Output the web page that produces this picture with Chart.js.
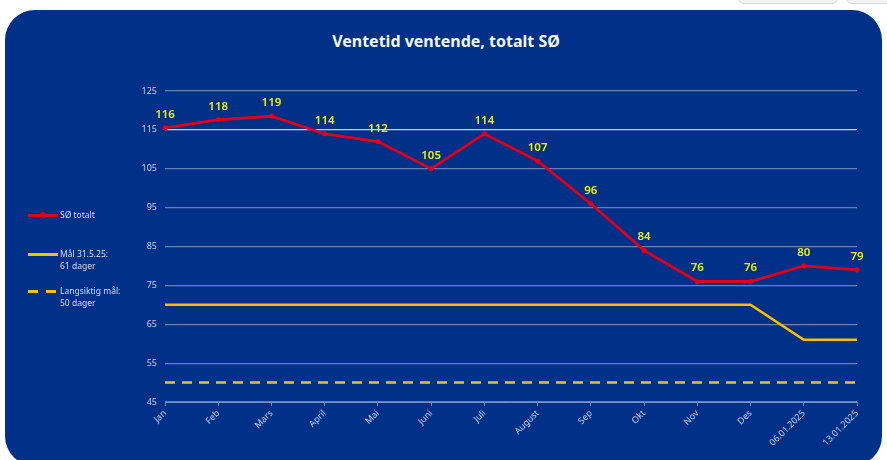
<!DOCTYPE html>
<html>
<head>
<meta charset="utf-8">
<script src="https://cdn.jsdelivr.net/npm/chart.js@4.4.1/dist/chart.umd.min.js"></script>
<style>
  html, body { margin: 0; padding: 0; background: #fff; width: 887px; height: 460px; overflow: hidden; }
  #panel {
    position: absolute; left: 5px; top: 10px; width: 877px; height: 456px;
    background: #003087; border-radius: 30px;
  }
  .btn {
    position: absolute; top: -12px; height: 14px; background: #f4f4f4;
    border: 1px solid #d8d8d8; border-radius: 6px;
  }
  #chart { position: absolute; left: 0; top: 0; }
  #title {
    position: absolute; left: 0; width: 892px; top: 30px; text-align: center;
    font-family: "Noto Sans", sans-serif; font-weight: bold; font-size: 16px; color: #f4f6fa;
  }
  .legend {
    position: absolute; left: 28px; font-family: "Noto Sans", sans-serif; font-size: 8.5px;
    color: #d9deea; line-height: 12px;
  }
  .legend .swatch { position: absolute; left: 0; top: 5px; width: 30px; height: 3px; }
  .legend .txt { position: absolute; left: 32px; top: 0; white-space: nowrap; }
</style>
</head>
<body>
<div class="btn" style="left:738px;width:98px"></div>
<div class="btn" style="left:846px;width:60px"></div>
<div id="panel"></div>
<div id="title">Ventetid ventende, totalt SØ</div>
<canvas id="chart" width="887" height="460"></canvas>

<div class="legend" style="top:209px">
  <div class="swatch" style="background:#e0001b"></div>
  <div style="position:absolute;left:12px;top:3px;width:6px;height:6px;border-radius:50%;background:#e0001b"></div>
  <div class="txt">SØ totalt</div>
</div>
<div class="legend" style="top:248px">
  <div class="swatch" style="background:#ffc000"></div>
  <div class="txt">Mål 31.5.25:<br>61 dager</div>
</div>
<div class="legend" style="top:285px">
  <div class="swatch" style="background:#ffc000;width:10px"></div>
  <div class="swatch" style="background:#ffc000;width:10px;left:18px"></div>
  <div class="txt">Langsiktig mål:<br>50 dager</div>
</div>

<script>
const labels = ['Jan', 'Feb', 'Mars', 'April', 'Mai', 'Juni', 'Juli', 'August', 'Sep', 'Okt', 'Nov', 'Des', '06.01.2025', '13.01.2025'];
const soTotalt = [115.5, 117.6, 118.5, 114, 112, 105, 114, 107, 96, 84, 76, 76, 80, 79];
const maal = [70, 70, 70, 70, 70, 70, 70, 70, 70, 70, 70, 70, 61, 61];
const langsiktig = [50, 50, 50, 50, 50, 50, 50, 50, 50, 50, 50, 50, 50, 50];
const yTicks = [45, 55, 65, 75, 85, 95, 105, 115, 125];

// value labels above the red line
const valueLabels = {
    id: 'valueLabels',
    afterDatasetsDraw(chart) {
        const ctx = chart.ctx;
        const meta = chart.getDatasetMeta(0);
        ctx.save();
        ctx.font = '600 11.5px "Noto Sans", sans-serif';
        ctx.fillStyle = '#f0f014';
        ctx.textAlign = 'center';
        ctx.textBaseline = 'alphabetic';
        meta.data.forEach((pt, i) => {
            ctx.fillText(Math.round(soTotalt[i]), pt.x, pt.y - 10);
        });
        ctx.restore();
    }
};

new Chart(document.getElementById('chart').getContext('2d'), {
    type: 'line',
    data: {
        labels: labels,
        datasets: [
            {
                label: 'SØ totalt',
                data: soTotalt,
                borderColor: '#e0001b',
                backgroundColor: '#e0001b',
                borderWidth: 2.8,
                pointRadius: 2.6,
                pointBorderWidth: 0,
                tension: 0
            },
            {
                label: 'Mål 31.5.25: 61 dager',
                data: maal,
                borderColor: '#ffc000',
                borderWidth: 2.5,
                pointRadius: 0,
                tension: 0
            },
            {
                label: 'Langsiktig mål: 50 dager',
                data: langsiktig,
                borderColor: '#ffc000',
                borderWidth: 2.5,
                borderDash: [10, 7],
                pointRadius: 0,
                tension: 0
            }
        ]
    },
    options: {
        responsive: false,
        devicePixelRatio: 1,
        animation: false,
        layout: { padding: { left: 0, right: 30, top: 91, bottom: 0 } },
        plugins: {
            legend: { display: false },
            tooltip: { enabled: false },
            title: { display: false }
        },
        scales: {
            x: {
                grid: { drawOnChartArea: false, drawTicks: true, tickLength: 4, color: 'rgba(200,210,235,0.55)' },
                border: { display: true, color: 'rgba(200,210,235,0.55)' },
                ticks: {
                    color: '#c8d0e6',
                    font: { family: '"Noto Sans", sans-serif', size: 9 },
                    minRotation: 45, maxRotation: 45, padding: 2, autoSkip: false
                },
                afterFit(scale) { scale.height = 58; }
            },
            y: {
                min: 45, max: 125,
                afterBuildTicks(scale) { scale.ticks = yTicks.map(v => ({ value: v })); },
                grid: {
                    drawTicks: false,
                    color: ctx => ctx.tick && ctx.tick.value === 115 ? 'rgba(235,240,250,0.85)' : 'rgba(200,210,235,0.5)',
                    lineWidth: 1.2
                },
                border: { display: false },
                ticks: {
                    color: '#c8d0e6',
                    font: { family: '"Noto Sans", sans-serif', size: 9 },
                    padding: 8
                },
                afterFit(scale) { scale.width = 165; }
            }
        }
    },
    plugins: [valueLabels]
});
</script>
</body>
</html>
